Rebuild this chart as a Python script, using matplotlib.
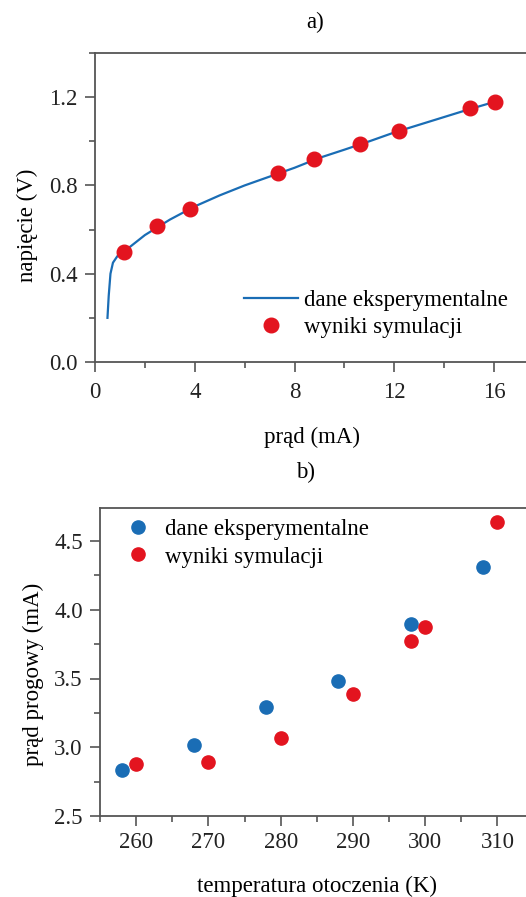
import matplotlib
matplotlib.use('Agg')
import matplotlib.pyplot as plt
from matplotlib.ticker import MultipleLocator

# a) I-V characteristic
exp_current = [0.50, 0.55, 0.62, 0.72, 0.90, 1.16, 2.0, 3.0, 4.0, 5.0, 6.0, 7.0,
               8.0, 9.0, 10.0, 11.0, 12.0, 13.0, 14.0, 15.0, 16.0, 16.2]
exp_voltage = [0.20, 0.30, 0.40, 0.45, 0.48, 0.50, 0.575, 0.645, 0.705, 0.755, 0.80, 0.84,
               0.88, 0.925, 0.962, 1.00, 1.04, 1.075, 1.11, 1.145, 1.178, 1.185]
sim_current = [1.16, 2.50, 3.79, 7.32, 8.77, 10.61, 12.18, 15.03, 16.04]
sim_voltage = [0.50, 0.615, 0.695, 0.856, 0.918, 0.988, 1.047, 1.149, 1.18]

# b) threshold current vs ambient temperature
exp_temp = [258, 268, 278, 288, 298, 308]
exp_thresh = [2.835, 3.016, 3.295, 3.48, 3.896, 4.313]
sim_temp = [260, 270, 280, 290, 298, 300, 310]
sim_thresh = [2.876, 2.895, 3.07, 3.39, 3.77, 3.877, 4.636]

BLUE = '#1a6db5'
RED = '#e3141f'
SPINE = '#555555'
FS = 16.5
W, H = 526, 897

plt.rcParams['font.family'] = ['Liberation Serif', 'DejaVu Serif']
plt.rcParams['font.size'] = FS


def style_axes(ax, xpad):
    for side in ['left', 'bottom', 'top', 'right']:
        ax.spines[side].set_color(SPINE)
        ax.spines[side].set_linewidth(1.3)
    ax.tick_params(which='both', direction='out', color=SPINE, width=1.2,
                   top=False, right=False, labelsize=FS, labelcolor='#222222')
    ax.tick_params(which='major', length=7.5)
    ax.tick_params(which='minor', length=4)
    ax.tick_params(axis='x', which='major', pad=xpad)
    ax.tick_params(axis='y', which='major', pad=5)


fig = plt.figure(figsize=(W / 100, H / 100), dpi=100)

ax1 = fig.add_axes([95 / W, (H - 362) / H, 434 / W, 309 / H])
ax1.plot(exp_current, exp_voltage, color=BLUE, lw=1.6, label='dane eksperymentalne')
ax1.plot(sim_current, sim_voltage, 'o', color=RED, ms=10.5, lw=0, label='wyniki symulacji')
ax1.set_xlim(0, 17.4)
ax1.set_ylim(0, 1.4)
ax1.xaxis.set_major_locator(MultipleLocator(4))
ax1.xaxis.set_minor_locator(MultipleLocator(2))
ax1.set_yticks([0.0, 0.4, 0.8, 1.2])
ax1.set_yticklabels(['0.0', '0.4', '0.8', '1.2'])
ax1.yaxis.set_minor_locator(MultipleLocator(0.2))
style_axes(ax1, 7)
ax1.legend(loc='upper left', bbox_to_anchor=((244 - 95) / 434, (362 - 290) / 309),
           frameon=False, fontsize=FS, handlelength=2.35, handletextpad=0.25,
           labelspacing=0.25, borderpad=0, borderaxespad=0)
fig.text(315 / W, 1 - 22 / H, 'a)', ha='center', va='center', fontsize=FS)
fig.text(312 / W, 1 - 437 / H, 'prąd (mA)', ha='center', va='center', fontsize=FS)
fig.text(27 / W, 1 - 225 / H, 'napięcie (V)', ha='center', va='center',
         rotation=90, fontsize=FS)

ax2 = fig.add_axes([100 / W, (H - 816) / H, 430 / W, 308 / H])
ax2.plot(exp_temp, exp_thresh, 'o', color=BLUE, ms=9.5, lw=0, label='dane eksperymentalne')
ax2.plot(sim_temp, sim_thresh, 'o', color=RED, ms=9.5, lw=0, label='wyniki symulacji')
ax2.set_xlim(255, 314.5)
ax2.set_ylim(2.5, 4.74)
ax2.xaxis.set_major_locator(MultipleLocator(10))
ax2.xaxis.set_minor_locator(MultipleLocator(5))
ax2.set_yticks([2.5, 3.0, 3.5, 4.0, 4.5])
ax2.set_yticklabels(['2.5', '3.0', '3.5', '4.0', '4.5'])
ax2.yaxis.set_minor_locator(MultipleLocator(0.25))
style_axes(ax2, 4)
ax2.legend(loc='upper left', bbox_to_anchor=((115 - 100) / 430, (816 - 519) / 308),
           frameon=False, fontsize=FS, handlelength=2.0, handletextpad=0.2,
           labelspacing=0.28, borderpad=0, borderaxespad=0)
fig.text(306 / W, 1 - 472 / H, 'b)', ha='center', va='center', fontsize=FS)
fig.text(317 / W, 1 - 886 / H, 'temperatura otoczenia (K)', ha='center', va='center',
         fontsize=FS)
fig.text(33 / W, 1 - 674 / H, 'prąd progowy (mA)', ha='center', va='center',
         rotation=90, fontsize=FS)

fig.savefig('out.png', dpi=100)
